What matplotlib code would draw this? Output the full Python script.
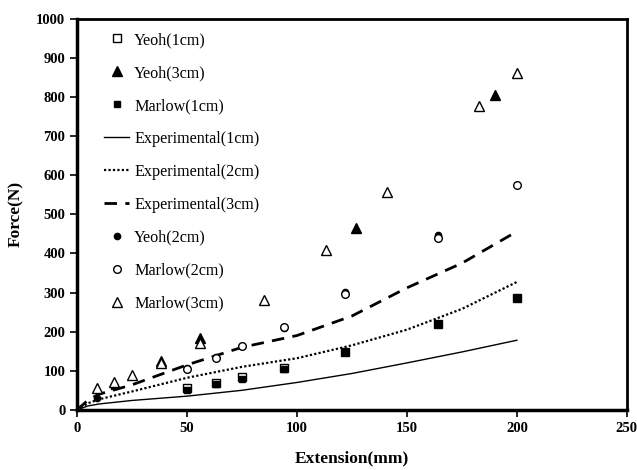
import matplotlib.pyplot as plt

plt.rcParams["font.family"] = ["Liberation Serif", "DejaVu Serif"]

# experimental curves
exp_x = [0, 5, 10, 25, 50, 75, 100, 125, 150, 175, 200]
exp_1cm = [0, 10, 15, 24, 35, 50, 70, 93, 120, 148, 178]
exp_2cm = [0, 17, 27, 47, 82, 110, 132, 165, 205, 258, 327]
exp_3cm = [0, 25, 40, 64, 115, 160, 190, 240, 312, 375, 456]

# model points
yeoh1_x = [0, 50, 63, 75, 94, 122, 164, 200]
yeoh1_y = [0, 55, 68, 83, 106, 147, 219, 287]
marlow1_x = [0, 17, 50, 63, 75, 94, 122, 164, 200]
marlow1_y = [0, 60, 52, 65, 80, 105, 148, 220, 287]
yeoh2_x = [0, 9, 50, 63, 75, 94, 122, 164]
yeoh2_y = [0, 30, 108, 134, 162, 210, 302, 448]
marlow2_x = [0, 50, 63, 75, 94, 122, 164, 200]
marlow2_y = [0, 105, 132, 162, 211, 295, 440, 575]
yeoh3_x = [0, 38, 56, 127, 190]
yeoh3_y = [0, 124, 183, 465, 804]
marlow3_x = [0, 9, 17, 25, 38, 56, 85, 113, 141, 183, 200]
marlow3_y = [0, 55, 72, 89, 119, 172, 280, 409, 556, 776, 861]

fig = plt.figure(figsize=(6.37, 4.70), dpi=100)
ax = fig.add_axes([0.121, 0.128, 0.863, 0.832])

ms = 5.5
ax.plot(yeoh1_x, yeoh1_y, ls="none", marker="s", ms=ms, mfc="white", mec="black", mew=1.0, label="Yeoh(1cm)")
ax.plot(yeoh3_x, yeoh3_y, ls="none", marker="^", ms=ms + 1, mfc="black", mec="black", label="Yeoh(3cm)")
ax.plot(marlow1_x, marlow1_y, ls="none", marker="s", ms=ms - 1.5, mfc="black", mec="black", label="Marlow(1cm)")
ax.plot(exp_x, exp_1cm, color="black", lw=1.0, ls="-", label="Experimental(1cm)")
ax.plot(exp_x, exp_2cm, color="black", lw=1.6, ls=(0, (1, 1)), label="Experimental(2cm)")
ax.plot(exp_x, exp_3cm, color="black", lw=2.0, ls=(0, (4.5, 3)), label="Experimental(3cm)")
ax.plot(yeoh2_x, yeoh2_y, ls="none", marker="o", ms=ms - 1, mfc="black", mec="black", label="Yeoh(2cm)")
ax.plot(marlow2_x, marlow2_y, ls="none", marker="o", ms=ms, mfc="white", mec="black", mew=1.0, label="Marlow(2cm)")
ax.plot(marlow3_x, marlow3_y, ls="none", marker="^", ms=ms + 1, mfc="white", mec="black", mew=1.0, label="Marlow(3cm)")

ax.set_xlim(0, 250)
ax.set_ylim(0, 1000)
ax.set_xticks(range(0, 251, 50))
ax.set_yticks(range(0, 1001, 100))
ax.tick_params(direction="out", length=5, width=1.2, labelsize=10.5)
for lab in ax.get_xticklabels() + ax.get_yticklabels():
    lab.set_fontweight("bold")
for side in ["left", "bottom"]:
    ax.spines[side].set_linewidth(2.5)
for side in ["top", "right"]:
    ax.spines[side].set_linewidth(2.0)

ax.set_xlabel("Extension(mm)", fontsize=12.5, fontweight="bold", labelpad=11)
ax.set_ylabel("Force(N)", fontsize=12.5, fontweight="bold", labelpad=9)

ax.legend(loc="upper left", bbox_to_anchor=(0.023, 1.003), frameon=False, fontsize=11.6,
          labelspacing=1.05, handlelength=1.55, handletextpad=0.3)

fig.savefig("out.png", dpi=100)
